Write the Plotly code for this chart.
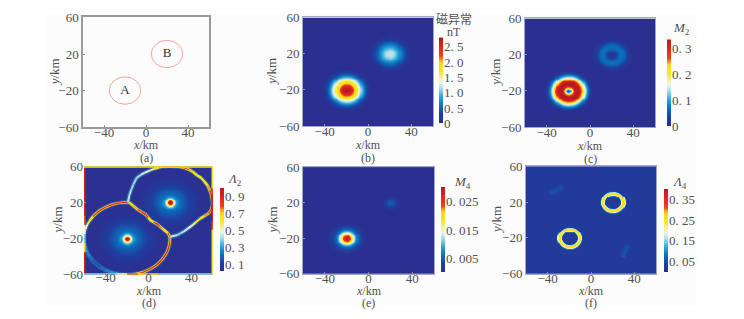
import numpy as np
import plotly.graph_objects as go
from plotly.colors import sample_colorscale

W, H = 744, 319
SERIF = "Liberation Serif, DejaVu Serif, serif"
TEXT = "#505050"

# ---- data ----
CENTER_A = (-20, -20)
CENTER_B = (20, 20)
GRID = list(range(-60, 61))

# radial profiles: value at r = 0, 1, 2 ... km from each body's centre, read from
# the colours in the picture; the 2-D field is these profiles laid out around each centre.
B_A = [2.8,2.8,2.75,2.7,2.6,2.45,2.25,2.0,1.85,1.75,1.65,1.5,1.3,1.15,.95,.8,.65,.5,.38,.28,.2,.13,.08,.04,.02,0]
B_B = [1.2,1.2,1.18,1.15,1.1,1.02,.95,.87,.8,.72,.65,.57,.5,.42,.35,.28,.22,.17,.12,.08,.05,.03,.02,.01,0]
C_A = [.05,.06,.1,.17,.24,.29,.32,.33,.335,.33,.32,.3,.26,.22,.18,.15,.12,.09,.07,.05,.03,.02,.01,0]
C_B = [.01,.012,.018,.025,.035,.045,.055,.062,.066,.068,.066,.06,.052,.043,.034,.025,.018,.012,.007,.004,.002,0]
D_A = [1,.98,.85,.65,.5,.38,.3,.26,.23,.21,.2,.19,.18,.17,.16,.15,.14,.13,.12,.11,.1,.09,.085,.08,.07,.06,.055,.05,.045,.04,.03]
D_B = D_A
E_A = [.029,.028,.027,.024,.02,.0175,.0155,.0125,.01,.0075,.006,.005,.004,.0034,.0028,.0022,.0017,.0012,.0008,.0005,.0002,0]
E_B = [.0055,.0053,.005,.0044,.0036,.0028,.002,.0014,.0009,.0005,.0002,0]
F_A = [.03,.03,.03,.03,.03,.03,.03,.04,.2,.26,.26,.2,.05,.03]
F_B = [.03,.03,.03,.03,.03,.03,.03,.04,.2,.26,.26,.2,.05,.03]
F_BG = .03

# panel (d): ridge lines (x, y, value)
D_ARC_A_X = [-18,-25.2,-30.4,-35.3,-40,-44.4,-48.3,-51.7,-54.6,-57,-58.6,-59.7,-60,-59.7,-58.6,-57,-54.6,-51.7,-48.3,-44.4,-40,-35.3,-30.4,-25.2,-20,-14.8,-9.6,-4.7,0,4.4,8.3,11.7,14.6,17,18.6,19.7,20]
D_ARC_A_Y = [20,19.7,18.6,17,14.6,11.7,8.3,4.4,0,-4.7,-9.6,-14.8,-20,-25.2,-30.4,-35.3,-40,-44.4,-48.3,-51.7,-54.6,-57,-58.6,-59.7,-60,-59.7,-58.6,-57,-54.6,-51.7,-48.3,-44.4,-40,-35.3,-30.4,-25.2,-18]
D_ARC_A_V = [.95,.9,.85,.88,.9,.88,.85,.75,.65,.55,.45,.38,.35,.32,.3,.28,.25,.2,.15,.2,.25,.28,.3,.4,.5,.65,.8,.82,.85,.9,.95,.92,.9,.92,.95,.85,.7]
D_ARC_B_X = [-19,-18,-16,-14,-11,-7,-3,1,5,9,13,17,21,26,30,34,38,41.5,45,49,52,55,57,58.5,59,59.5,59,58,56,52,48,44,40,36.5,33,30,27,20]
D_ARC_B_Y = [20,27,34,40,47,50.5,53,55,57,58.5,59.5,60,60,59.7,59,57.8,56,53.5,50,47,43,38.5,33,28,23,19,15,11,8,5,2,-2,-6,-9,-12,-14,-16,-18]
D_ARC_B_V = [.45,.42,.4,.4,.4,.42,.45,.5,.6,.7,.8,.85,.9,.9,.85,.8,.75,.7,.65,.6,.6,.7,.8,.9,1,1,1,.9,.8,.72,.65,.58,.5,.46,.42,.4,.38,.5]
D_MID_X = [-18,-14,-10,-6,-3,0,2,5,8,10,13,16,18,20]
D_MID_Y = [20,16,12,9,7,3,0,-2,-4,-6,-9,-12,-14,-18]
D_MID_V = [.7,.72,.75,.85,.95,.8,.6,.8,.95,.85,.65,.65,.7,.85]
D_LEFT_Y = [60,30,5,-5,-15,-25,-35,-60]
D_LEFT_V = [.95,.95,.9,.65,.35,.4,.95,.95]
D_RIGHT_Y = [60,35,30,0,-10,-60]
D_RIGHT_V = [.65,.65,.95,.95,.65,.65]
D_TOP_X = [-60,-10,10,30,60]
D_TOP_V = [.65,.6,.75,.65,.65]
D_BOT_X = [-60,-30,-20,-10,10,60]
D_BOT_V = [.4,.4,.7,.85,.4,.4]

# panel (f): faint smudges
F_SMUDGE_1_X = [-38,-32,-26]
F_SMUDGE_1_Y = [29,33,37]
F_SMUDGE_2_X = [29,31,34]
F_SMUDGE_2_Y = [-42,-36,-28]

# panel (a) outlines
BODY_NAMES = ["A", "B"]
BODY_X = [-20, 20]
BODY_Y = [-20, 20]
BODY_R = [15, 15]

# colour bars
CB_RANGE = {"b": (0, 2.8), "c": (0, .333), "d": (.02, 1.0), "e": (.0003, .03), "f": (0, .4)}
CB_VALS = {"b": [0,.5,1,1.5,2,2.5], "c": [0,.1,.2,.3], "d": [.1,.3,.5,.7,.9],
           "e": [.005,.015,.025], "f": [.05,.15,.25,.35]}
CB_TEXT = {"b": ["0","0. 5","1. 0","1. 5","2. 0","2. 5"], "c": ["0","0. 1","0. 2","0. 3"],
           "d": ["0. 1","0. 3","0. 5","0. 7","0. 9"], "e": ["0. 005","0. 015","0. 025"],
           "f": ["0. 05","0. 15","0. 25","0. 35"]}
CSCALE = [[0,"#2b2f8f"],[.1,"#1f3f9f"],[.2,"#0a6fbc"],[.3,"#2aa5dc"],[.4,"#a8dcea"],[.47,"#ecf4e4"],
          [.54,"#f6ee90"],[.6,"#fde61c"],[.7,"#fdd81c"],[.74,"#f59a1a"],[.78,"#ee4022"],[.9,"#e8201f"],[1,"#b21c20"]]

# ---- layout in pixels ----
PANELS = {
    "a": dict(x=(83,209),  y=(11,126)),
    "b": dict(x=(303,433), y=(11,125)),
    "c": dict(x=(525,655), y=(12,126)),
    "d": dict(x=(84,213),  y=(167,281)),
    "e": dict(x=(303,434), y=(168,280)),
    "f": dict(x=(526,656), y=(167,280)),
}
CBARS = {"b": (439,4,32,122), "c": (667,4,34,125), "d": (220,4,190,277), "e": (441,4,189,278), "f": (664,4,191,278)}
LABEL_Y = {"a":145,"b":145,"c":146,"d":298,"e":298,"f":298}
CAP_Y = {"a":158,"b":158,"c":159,"d":311,"e":311,"f":311}
YLAB_X = {"a":54,"b":272,"c":496,"d":57,"e":272,"f":497}
ORDER = "abcdef"

def px(x): return x / W
def py(y): return 1 - y / H

def field(tab_a, tab_b, bg=0.0):
    g = np.array(GRID, dtype=float)
    xx, yy = np.meshgrid(g, g)
    out = np.full(xx.shape, bg)
    for c, tab in ((CENTER_A, tab_a), (CENTER_B, tab_b)):
        r = np.hypot(xx - c[0], yy - c[1])
        vals = np.interp(r, np.arange(len(tab)), tab, right=bg)
        out = np.maximum(out, vals)
    return out

fig = go.Figure()
layout = dict(width=W, height=H, margin=dict(l=0, r=0, t=0, b=0), paper_bgcolor="white",
              plot_bgcolor="#fdfdfd", showlegend=False, font=dict(family=SERIF, size=12, color=TEXT))
ann, shapes = [], []
shapes.append(dict(type="rect", xref="paper", yref="paper", x0=px(46), x1=px(697), y0=py(314), y1=py(7),
                   fillcolor="#fcfcfc", line_width=0, layer="below"))

for i, k in enumerate(ORDER, 1):
    p = PANELS[k]
    s = "" if i == 1 else str(i)
    line = "#999999" if k == "a" else "#a0a6c8"
    common = dict(range=[-60, 60], showgrid=False, zeroline=False, showline=(k != "d"), linecolor=line,
                  linewidth=1.5 if k == "a" else 1, mirror=True, ticks="inside", ticklen=2, tickcolor="#8f8f8f",
                  tickfont=dict(family=SERIF, size=13, color=TEXT))
    layout["xaxis" + s] = dict(domain=[px(p["x"][0]), px(p["x"][1])], anchor="y" + s, ticklabelstandoff=-7,
                               tickvals=[-40, 0, 40], ticktext=["−40", "0", "40"], **common)
    layout["yaxis" + s] = dict(domain=[py(p["y"][1]), py(p["y"][0])], anchor="x" + s,
                               tickvals=[-60, -20, 20, 60], ticktext=["−60", "−20", "20", "60"], **common)
    ann.append(dict(text="<i>x</i>/km", xref="paper", yref="paper", x=px(sum(p["x"]) / 2), y=py(LABEL_Y[k]),
                    showarrow=False, xanchor="center", yanchor="middle", font=dict(family=SERIF, size=12, color=TEXT)))
    ann.append(dict(text="(%s)" % k, xref="paper", yref="paper", x=px(sum(p["x"]) / 2), y=py(CAP_Y[k]),
                    showarrow=False, xanchor="center", yanchor="middle", font=dict(family=SERIF, size=12, color=TEXT)))
    ann.append(dict(text="<i>y</i>/km", xref="paper", yref="paper", x=px(YLAB_X[k]), y=py(sum(p["y"]) / 2),
                    textangle=-90, showarrow=False, xanchor="center", yanchor="middle",
                    font=dict(family=SERIF, size=13, color=TEXT)))

TABLES = {"b": (B_A, B_B, 0.0), "c": (C_A, C_B, 0.0), "d": (D_A, D_B, .03), "e": (E_A, E_B, 0.0003), "f": (F_A, F_B, F_BG)}
for n, k in enumerate("bcdef"):
    i = ORDER.index(k) + 1
    s = str(i) if i > 1 else ""
    ta, tb, bg = TABLES[k]
    z = field(ta, tb, bg)
    lo, hi = CB_RANGE[k]
    fig.add_trace(go.Heatmap(x=GRID, y=GRID, z=np.round(z, 5).tolist(), xaxis="x" + s, yaxis="y" + s,
                             zsmooth="best", zmin=lo, zmax=hi, colorscale=CSCALE, showscale=False, hoverinfo="skip"))
    # colour bar: a one-column heatmap on its own small axes
    cs = str(7 + n)
    x0, th, y0, y1 = CBARS[k]
    levels = np.linspace(lo, hi, 120)
    fig.add_trace(go.Heatmap(x=[0], y=levels.tolist(), z=[[float(v)] for v in levels], xaxis="x" + cs, yaxis="y" + cs,
                             zmin=lo, zmax=hi, colorscale=CSCALE, showscale=False, hoverinfo="skip"))
    layout["xaxis" + cs] = dict(domain=[px(x0), px(x0 + th)], anchor="y" + cs, visible=False)
    layout["yaxis" + cs] = dict(domain=[py(y1), py(y0)], anchor="x" + cs, side="right", range=[lo, hi],
                                tickvals=CB_VALS[k], ticktext=CB_TEXT[k], ticks="", showline=False,
                                showgrid=False, zeroline=False, tickfont=dict(family=SERIF, size=13, color=TEXT))

def ramp(v):
    t = (v - CB_RANGE["d"][0]) / (CB_RANGE["d"][1] - CB_RANGE["d"][0])
    return sample_colorscale(CSCALE, [min(max(t, 0), 1)])[0]

def seg(xs, ys, color, width):
    fig.add_trace(go.Scatter(x=xs, y=ys, mode="lines", xaxis="x4", yaxis="y4", hoverinfo="skip",
                             line=dict(color=color, width=width)))

def ridge(xs, ys, vs, width=1.3, glow=True):
    if glow:
        fig.add_trace(go.Scatter(x=xs, y=ys, mode="lines", xaxis="x4", yaxis="y4", hoverinfo="skip",
                                 line=dict(color="rgba(70,175,225,0.35)", width=4.5, shape="spline")))
        for n in range(len(xs) - 1):
            v = (vs[n] + vs[n + 1]) / 2
            seg(xs[n:n + 2], ys[n:n + 2], ramp(max(v - .25, .64) if v > .62 else v), 2.5 if v > .62 else 2)
    for n in range(len(xs) - 1):
        v = (vs[n] + vs[n + 1]) / 2
        if not glow or v > .62:
            seg(xs[n:n + 2], ys[n:n + 2], ramp(v), width)

ridge(D_ARC_A_X, D_ARC_A_Y, D_ARC_A_V)
ridge(D_ARC_B_X, D_ARC_B_Y, D_ARC_B_V)
ridge(D_MID_X, D_MID_Y, D_MID_V)
ridge([-60] * len(D_LEFT_Y), D_LEFT_Y, D_LEFT_V, width=3, glow=False)
ridge([60] * len(D_RIGHT_Y), D_RIGHT_Y, D_RIGHT_V, width=3, glow=False)
ridge(D_TOP_X, [60] * len(D_TOP_X), D_TOP_V, width=3, glow=False)
ridge(D_BOT_X, [-60] * len(D_BOT_X), D_BOT_V, width=3, glow=False)

for xs, ys in ((F_SMUDGE_1_X, F_SMUDGE_1_Y), (F_SMUDGE_2_X, F_SMUDGE_2_Y)):
    fig.add_trace(go.Scatter(x=xs, y=ys, mode="lines", xaxis="x6", yaxis="y6", hoverinfo="skip",
                             line=dict(color="rgba(20,100,185,0.28)", width=6)))
    fig.add_trace(go.Scatter(x=xs, y=ys, mode="lines", xaxis="x6", yaxis="y6", hoverinfo="skip",
                             line=dict(color="rgba(20,100,185,0.35)", width=2.5)))

# panel (a)
fig.add_trace(go.Scatter(x=BODY_X, y=BODY_Y, mode="text", text=BODY_NAMES, hoverinfo="skip",
                         textfont=dict(family=SERIF, size=13, color="#333333"), xaxis="x", yaxis="y"))
for bx, by, br in zip(BODY_X, BODY_Y, BODY_R):
    shapes.append(dict(type="circle", xref="x", yref="y", x0=bx - br, x1=bx + br, y0=by - br, y1=by + br,
                       line=dict(color="#f2a898", width=1)))

# colour-bar titles
TITLES = [("磁异常", 454, 12, "Noto Sans CJK SC", 12), ("nT", 454, 26, SERIF, 12),
          ("<i>M</i><sub>2</sub>", 681, 23, SERIF, 13), ("<i>Λ</i><sub>2</sub>", 234, 181, SERIF, 13),
          ("<i>M</i><sub>4</sub>", 462, 184, SERIF, 13), ("<i>Λ</i><sub>4</sub>", 679, 184, SERIF, 13)]
for t, tx, ty, fam, sz in TITLES:
    ann.append(dict(text=t, xref="paper", yref="paper", x=px(tx), y=py(ty), showarrow=False,
                    xanchor="center", yanchor="middle", font=dict(family=fam, size=sz, color=TEXT)))

layout["annotations"] = ann
layout["shapes"] = shapes
fig.update_layout(**layout)
fig.write_html("out.html", config={"displayModeBar": False},
               post_script="document.body.style.margin='0';document.body.style.overflow='hidden';")
